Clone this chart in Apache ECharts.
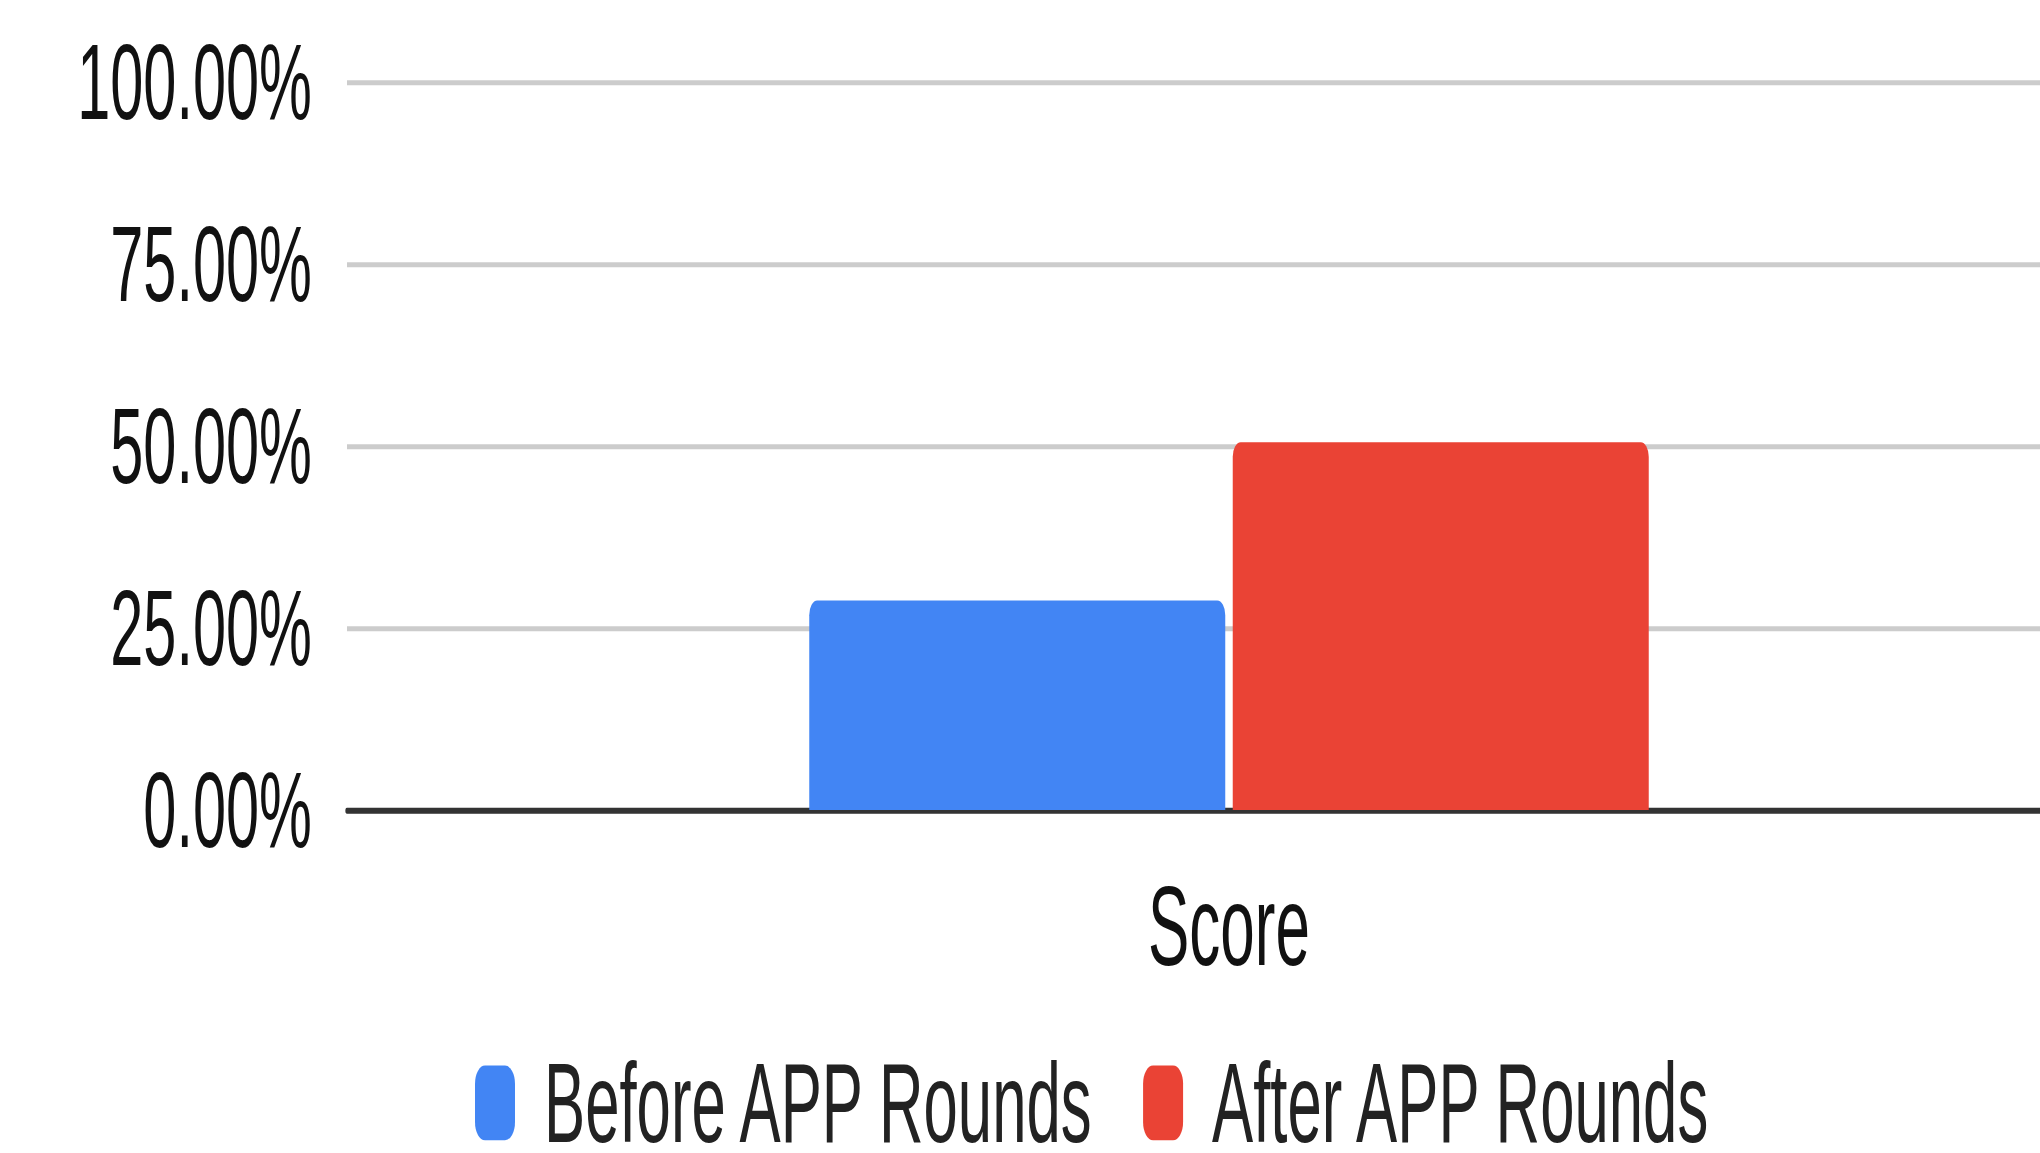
<!DOCTYPE html>
<html>
<head>
<meta charset="utf-8">
<script src="https://cdn.jsdelivr.net/npm/echarts@6/dist/echarts.min.js"></script>
<style>
  html, body { margin: 0; padding: 0; background: #ffffff; overflow: hidden; }
  #wrap { width: 2040px; height: 1153px; overflow: hidden; position: relative; }
  /* the chart is laid out in a short, wide box (the plot runs past the right edge)
     and stretched vertically for tall, narrow type */
  #chart { width: 2111px; height: 634px; transform-origin: 0 0; transform: scale(1, 1.82); }
</style>
</head>
<body>
<div id="wrap"><div id="chart"></div></div>
<script>
// Chart data
const categories = ['Score'];
const seriesNames = ['Before APP Rounds', 'After APP Rounds'];
const beforeValues = [0.2875];
const afterValues = [0.505];
const yTicks = [0, 0.25, 0.5, 0.75, 1];

const FONT = '"Liberation Sans", Arial, sans-serif';

const chart = echarts.init(document.getElementById('chart'), null, { renderer: 'svg' });

chart.setOption({
  animation: false,
  backgroundColor: '#ffffff',
  color: ['#4285F4', '#EA4335'],
  grid: { left: 347, top: 45, right: 0, height: 400, containLabel: false },
  legend: {
    data: seriesNames,
    left: 475,
    top: 575,
    itemWidth: 40,
    itemHeight: 41,
    itemGap: 47,
    icon: 'roundRect',
    textStyle: { fontFamily: FONT, fontSize: 61.7, color: '#222222', lineHeight: 60, padding: [0, 0, 0, 24] },
    padding: 0
  },
  xAxis: {
    type: 'category',
    data: categories,
    axisTick: { show: false },
    axisLine: { show: true, lineStyle: { color: '#333333', width: 3.3 } },
    axisLabel: { fontFamily: FONT, fontSize: 62, color: '#111111', margin: 33 }
  },
  yAxis: {
    type: 'value',
    min: yTicks[0],
    max: yTicks[yTicks.length - 1],
    interval: yTicks[1] - yTicks[0],
    axisLine: { show: false },
    axisTick: { show: false },
    splitLine: { lineStyle: { color: '#cccccc', width: 2.8 } },
    axisLabel: {
      fontFamily: FONT, fontSize: 59.5, color: '#111111', margin: 35,
      formatter: v => (v * 100).toFixed(2) + '%'
    }
  },
  series: [
    {
      name: seriesNames[0], type: 'bar', data: beforeValues,
      barWidth: 416, barGap: '1.8%',
      itemStyle: { borderRadius: [8, 8, 0, 0] }
    },
    {
      name: seriesNames[1], type: 'bar', data: afterValues,
      barWidth: 416, barGap: '1.8%',
      itemStyle: { borderRadius: [8, 8, 0, 0] }
    }
  ]
});
</script>
</body>
</html>
